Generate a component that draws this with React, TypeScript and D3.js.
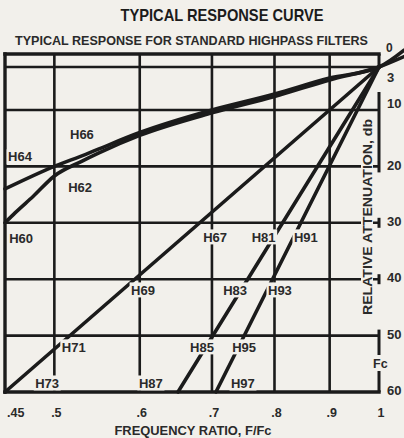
import React from "react";
import * as d3 from "d3";

// ---- data ----
const xTickValues = [0.45, 0.5, 0.6, 0.7, 0.8, 0.9, 1];
const xTickLabels = [".45", ".5", ".6", ".7", ".8", ".9", "1"];
const yTickValues = [0, 3, 10, 20, 30, 40, 50, 60];
const gridFreqs = [0.5, 0.6, 0.7, 0.8, 0.9];
const gridDbs = [3, 10, 20, 30, 40, 50];

// upper curve (H64 / H66)
const curveUpperF = [0.45, 0.5, 0.534, 0.55, 0.6, 0.7, 0.8, 0.9, 1.0, 1.055];
const curveUpperDb = [24, 20, 17.9, 16.9, 14, 10, 7.4, 4.8, 3, -0.9];
// lower curve (H60 / H62)
const curveLowerF = [0.45, 0.46, 0.478, 0.5, 0.53, 0.55, 0.6, 0.7, 0.8, 0.9, 1.0, 1.055];
const curveLowerDb = [30, 28.2, 25.3, 21.7, 19.1, 17.6, 14.5, 10.5, 7.8, 5.1, 3, 0.6];

// straight families, each from (startF, 60 dB) to (1, 3 dB)
const lineStartF = [0.45, 0.651, 0.706];
const lineStartDb = 60;
const lineEndF = 1;
const lineEndDb = 3;

// filter labels: name, anchor (left-middle) in data units
const labelNames = ["H64", "H66", "H62", "H60", "H67", "H81", "H91", "H69", "H83", "H93", "H71", "H85", "H95", "H73", "H87", "H97"];
const labelF = [0.453, 0.517, 0.515, 0.454, 0.687, 0.762, 0.834, 0.589, 0.717, 0.789, 0.508, 0.668, 0.731, 0.48, 0.599, 0.729];
const labelDb = [18.3, 14.4, 23.7, 32.7, 32.5, 32.5, 32.5, 41.9, 41.9, 41.9, 52.0, 52.0, 52.0, 58.4, 58.4, 58.4];

const W = 404;
const H = 438;
const BG = "#f2f0eb";
const INK = "#1b1b1b";
const FONT = "'Liberation Sans', Arial, sans-serif";

export default function App() {
  const x = d3.scaleLog().domain([0.45, 1]).range([5, 379]);
  const y = d3.scaleLinear().domain([0, 3, 10, 60]).range([54, 67, 110, 392]);

  const curveGen = d3
    .line<[number, number]>()
    .x((d) => x(d[0]))
    .y((d) => y(d[1]))
    .curve(d3.curveMonotoneX);
  const upper = curveGen(curveUpperF.map((f, i) => [f, curveUpperDb[i]]));
  const lower = curveGen(curveLowerF.map((f, i) => [f, curveLowerDb[i]]));

  const straight = d3
    .line<[number, number]>()
    .x((d) => x(d[0]))
    .y((d) => y(d[1]));

  const x0 = x(0.45);
  const x1 = x(1);
  const yTop = y(0);
  const yBot = y(60);

  const yLabelOffset = (v: number) => (v === 0 ? -6 : v === 3 ? 10 : v === 10 ? -7 : -1.5);

  // right border pieces (gaps where the original has them)
  const rightPieces: [number, number][] = [
    [yTop, y(3) + 2],
    [92, y(20) + 6],
    [y(30) - 5, y(30) + 5],
    [y(40) - 5, y(40) + 5],
    [y(50) - 6, 355],
    [371, yBot],
  ];

  return (
    <svg
      width={W}
      height={H}
      viewBox={`0 0 ${W} ${H}`}
      style={{ position: "absolute", left: 0, top: 0, display: "block" }}
    >
      <rect x={0} y={0} width={W} height={H} fill={BG} />

      {/* titles */}
      <text x={222} y={21} textAnchor="middle" fontFamily={FONT} fontWeight="bold" fontSize={17} fill={INK} textLength={203} lengthAdjust="spacingAndGlyphs">
        TYPICAL RESPONSE CURVE
      </text>
      <text x={15} y={45} fontFamily={FONT} fontWeight="bold" fontSize={13} fill="#2a2a2a" textLength={353} lengthAdjust="spacingAndGlyphs">
        TYPICAL RESPONSE FOR STANDARD HIGHPASS FILTERS
      </text>

      {/* grid */}
      <g stroke={INK} strokeWidth={2.6}>
        {gridFreqs.map((f) => (
          <line key={"gv" + f} x1={x(f)} x2={x(f)} y1={yTop} y2={yBot} />
        ))}
        {gridDbs.map((d) => (
          <line key={"gh" + d} x1={x0} x2={x1} y1={y(d)} y2={y(d)} />
        ))}
      </g>

      {/* frame */}
      <g stroke={INK} strokeWidth={3.4} strokeLinecap="square">
        <line x1={x0} x2={x1} y1={yTop} y2={yTop} />
        <line x1={x0} x2={x1} y1={yBot} y2={yBot} />
        <line x1={x0} x2={x0} y1={yTop} y2={yBot} />
      </g>
      <g stroke={INK} strokeWidth={3}>
        {rightPieces.map((p, i) => (
          <line key={"rb" + i} x1={x1} x2={x1} y1={p[0]} y2={p[1]} />
        ))}
      </g>

      {/* response curves */}
      <g fill="none" stroke={INK} strokeWidth={3.6} strokeLinecap="round">
        <path d={upper || ""} />
        <path d={lower || ""} />
        {lineStartF.map((f) => (
          <path key={"ln" + f} d={straight([[f, lineStartDb], [lineEndF, lineEndDb]]) || ""} />
        ))}
      </g>

      {/* relative attenuation axis title */}
      <g transform={`translate(367, 217) rotate(-90)`}>
        <rect x={-99} y={-6} width={198} height={12} fill={BG} />
        <text x={0} y={0} dy="0.36em" textAnchor="middle" fontFamily={FONT} fontWeight="bold" fontSize={12.5} fill="#2a2a2a" textLength={196} lengthAdjust="spacingAndGlyphs">
          RELATIVE ATTENUATION, db
        </text>
      </g>

      {/* filter labels */}
      {labelNames.map((name, i) => {
        const lx = x(labelF[i]);
        const ly = y(labelDb[i]);
        return (
          <g key={name}>
            <rect x={lx - 1.5} y={ly - 7.5} width={27} height={15} fill={BG} />
            <text x={lx} y={ly} dy="0.36em" fontFamily={FONT} fontWeight="bold" fontSize={13} fill="#2a2a2a">
              {name}
            </text>
          </g>
        );
      })}

      {/* right dB labels */}
      {yTickValues.map((v) => (
        <text key={"yl" + v} x={v === 0 ? 386 : 387} y={y(v) + yLabelOffset(v)} dy="0.36em" fontFamily={FONT} fontWeight="bold" fontSize={v === 0 ? 12 : 13} fill="#2a2a2a">
          {v}
        </text>
      ))}
      <rect x={372} y={356} width={14} height={14} fill={BG} />
      <text x={373} y={363} dy="0.36em" fontFamily={FONT} fontWeight="bold" fontSize={12.5} fill="#2a2a2a">
        Fc
      </text>

      {/* frequency labels */}
      {xTickValues.map((v, i) => (
        <text
          key={"xl" + v}
          x={i === 0 ? 7 : x(v) + 2}
          y={417}
          textAnchor={i === 0 ? "start" : "middle"}
          fontFamily={FONT}
          fontWeight="bold"
          fontSize={12.5}
          fill="#2a2a2a"
        >
          {xTickLabels[i]}
        </text>
      ))}
      <text x={193} y={435} textAnchor="middle" fontFamily={FONT} fontWeight="bold" fontSize={13} fill="#2a2a2a" textLength={157} lengthAdjust="spacingAndGlyphs">
        FREQUENCY RATIO, F/Fc
      </text>
    </svg>
  );
}
